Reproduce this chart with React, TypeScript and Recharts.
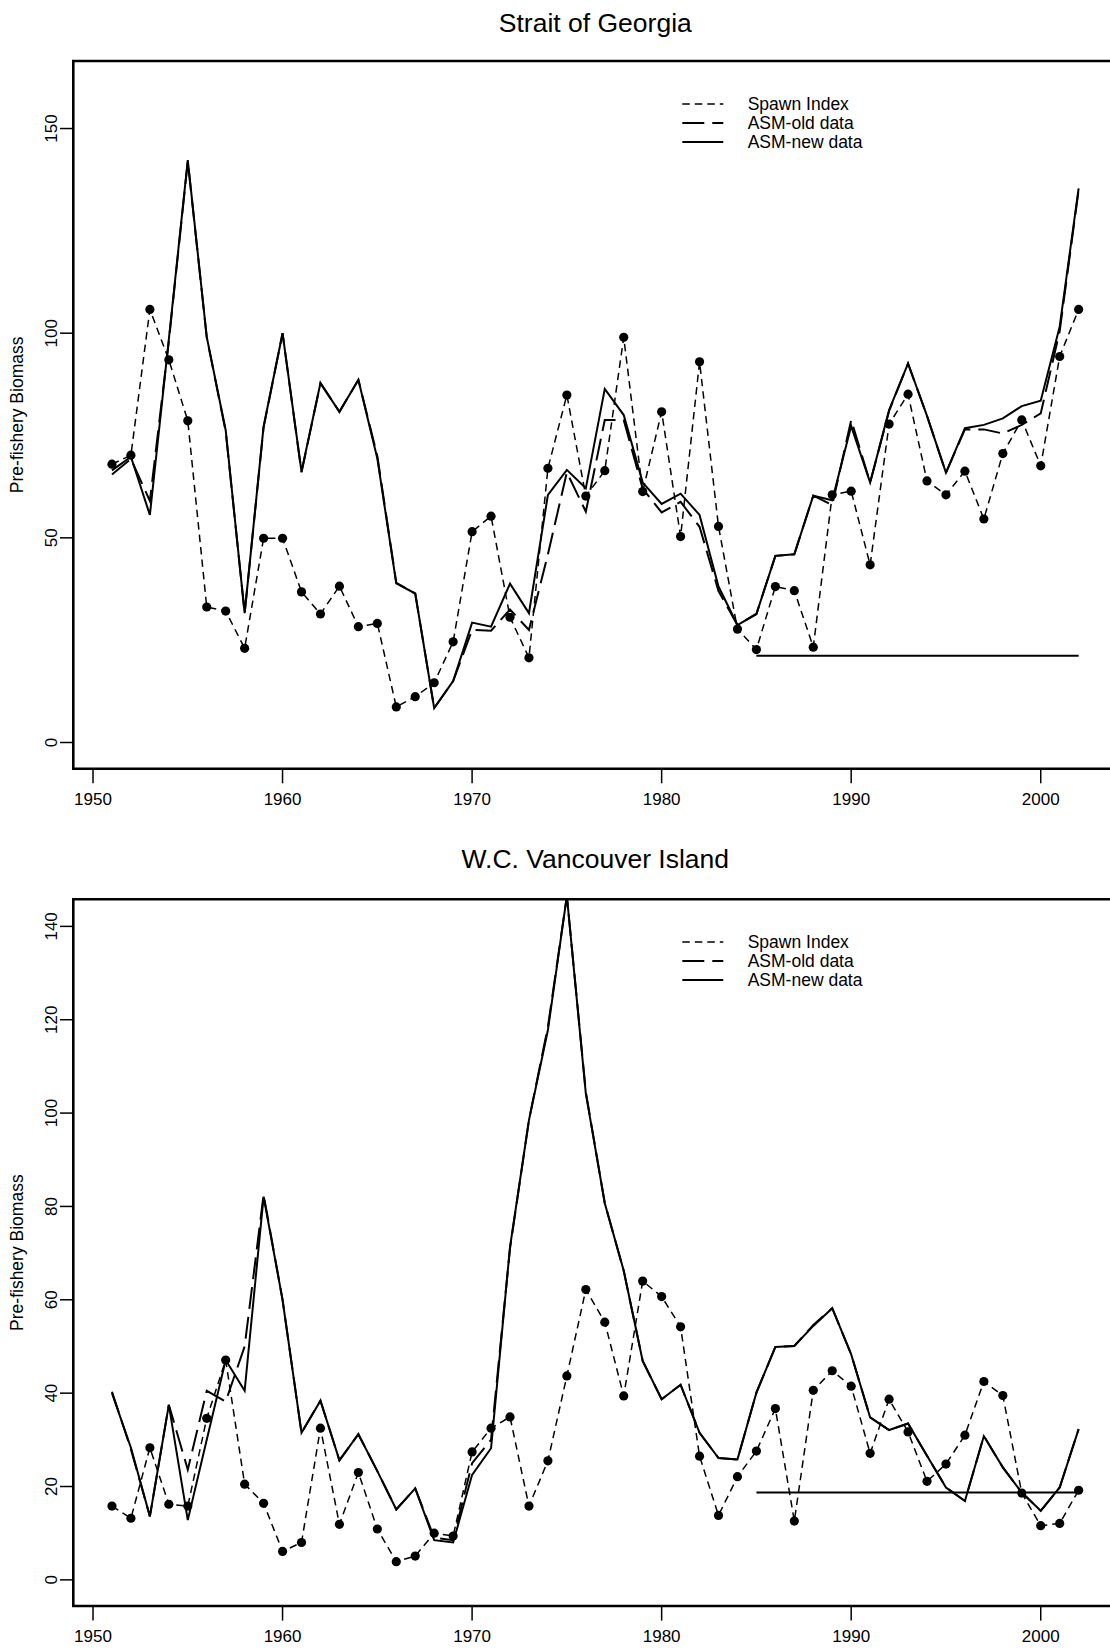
import React from 'react';
import { LineChart, Line, XAxis, YAxis, ReferenceArea, ReferenceLine, Legend } from 'recharts';

const FONT = "'Liberation Sans', Arial, Helvetica, sans-serif";

// ---------- data ----------
const years = [
  1951, 1952, 1953, 1954, 1955, 1956, 1957, 1958, 1959, 1960,
  1961, 1962, 1963, 1964, 1965, 1966, 1967, 1968, 1969, 1970,
  1971, 1972, 1973, 1974, 1975, 1976, 1977, 1978, 1979, 1980,
  1981, 1982, 1983, 1984, 1985, 1986, 1987, 1988, 1989, 1990,
  1991, 1992, 1993, 1994, 1995, 1996, 1997, 1998, 1999, 2000,
  2001, 2002,
];

const xTicks = [1950, 1960, 1970, 1980, 1990, 2000];

// Strait of Georgia
const sogSpawn = [
  68.0, 70.2, 105.8, 93.5, 78.6, 33.1, 32.1, 23.0, 49.9, 49.9,
  36.8, 31.4, 38.2, 28.3, 29.1, 8.7, 11.2, 14.6, 24.6, 51.5,
  55.3, 30.6, 20.7, 67.0, 84.9, 60.2, 66.4, 99.0, 61.3, 80.8,
  50.3, 93.0, 52.8, 27.7, 22.7, 38.1, 37.1, 23.3, 60.5, 61.4,
  43.4, 77.8, 85.1, 63.9, 60.5, 66.3, 54.6, 70.6, 78.8, 67.6,
  94.3, 105.8,
];
const sogAsmOld = [
  65.5, 69.3, 59.0, 98.0, 142.0, 99.0, 76.0, 31.6, 77.0, 100.0,
  66.0, 87.8, 80.8, 88.6, 70.0, 39.0, 36.4, 8.4, 15.0, 27.5,
  27.3, 32.5, 27.5, 46.0, 66.0, 56.4, 78.8, 78.8, 62.0, 56.2,
  58.8, 52.7, 37.0, 28.7, 31.4, 45.6, 46.0, 60.3, 58.0, 78.8,
  63.5, 81.0, 92.6, 79.8, 65.9, 76.5, 76.5, 75.5, 77.6, 80.4,
  100.5, 135.0,
];
const sogAsmNew = [
  66.5, 69.8, 55.6, 98.5, 142.3, 99.1, 76.3, 31.6, 77.2, 100.0,
  66.2, 87.8, 80.8, 88.6, 69.4, 38.9, 36.4, 8.4, 15.0, 29.3,
  28.3, 38.8, 31.6, 60.5, 66.6, 62.1, 86.4, 80.0, 63.5, 58.3,
  60.8, 55.6, 38.1, 28.7, 31.4, 45.6, 46.0, 60.3, 59.2, 77.3,
  63.5, 81.2, 92.6, 79.8, 65.9, 76.8, 77.6, 79.2, 82.2, 83.5,
  101.6, 135.4,
];
const sogCutoff = 21.2;
const sogYTicks = [0, 50, 100, 150];

// W.C. Vancouver Island
const wcviSpawn = [
  15.8, 13.2, 28.3, 16.2, 15.8, 34.6, 47.1, 20.5, 16.4, 6.1,
  8.0, 32.5, 11.9, 23.0, 10.9, 3.9, 5.1, 10.0, 9.4, 27.4,
  32.5, 34.9, 15.8, 25.5, 43.7, 62.2, 55.2, 39.4, 64.0, 60.7,
  54.2, 26.5, 13.8, 22.1, 27.6, 36.7, 12.6, 40.6, 44.8, 41.5,
  27.1, 38.7, 31.7, 21.1, 24.8, 31.0, 42.5, 39.5, 18.6, 11.6,
  12.1, 19.2,
];
const wcviAsmOld = [
  40.3, 28.0, 13.6, 37.5, 23.6, 40.5, 38.2, 50.0, 82.5, 60.0,
  31.5, 38.4, 25.6, 31.2, 23.3, 15.1, 19.6, 9.0, 8.5, 25.0,
  30.0, 71.0, 98.5, 118.5, 146.5, 104.5, 80.7, 66.2, 46.9, 38.7,
  41.8, 31.5, 26.1, 25.8, 40.1, 49.9, 50.1, 54.6, 58.2, 48.3,
  34.8, 32.1, 33.5, 26.6, 19.8, 16.9, 30.8, 24.1, 18.7, 14.8,
  19.8, 32.3,
];
const wcviAsmNew = [
  40.0, 28.3, 13.6, 37.5, 12.8, 30.0, 47.1, 40.5, 82.1, 60.0,
  31.5, 38.4, 25.6, 31.2, 23.3, 15.1, 19.6, 8.5, 8.0, 22.5,
  28.2, 71.3, 98.5, 117.8, 146.5, 104.2, 80.7, 66.2, 46.9, 38.7,
  41.8, 31.5, 26.1, 25.8, 40.1, 49.9, 50.1, 54.4, 58.2, 48.3,
  34.8, 32.1, 33.5, 26.6, 19.8, 16.9, 30.8, 24.1, 18.7, 14.8,
  19.8, 32.3,
];
const wcviCutoff = 18.7;
const wcviYTicks = [0, 20, 40, 60, 80, 100, 120, 140];

const cutoffYears = [1985, 2002];
const legendLabels = ['Spawn Index', 'ASM-old data', 'ASM-new data'];

// ---------- styles ----------
const SPAWN_DASH = '7.5 5';
const OLD_DASH = '22 8';
const legendStyles = [
  { dash: SPAWN_DASH, w: 1.5 },
  { dash: OLD_DASH, w: 2 },
  { dash: undefined as string | undefined, w: 2 },
];

const X_DOMAIN: [number, number] = [1948.96, 2004.04];

const buildRows = (spawn: number[], oldv: number[], newv: number[]) =>
  years.map((yr, i) => ({ year: yr, spawn: spawn[i], asmOld: oldv[i], asmNew: newv[i] }));

const YTick = (props: any) => {
  const { x, y, payload } = props;
  return (
    <text
      transform={`translate(${x},${y}) rotate(-90)`}
      textAnchor="middle"
      fontSize={17}
      fontFamily={FONT}
      fill="#000"
    >
      {payload.value}
    </text>
  );
};

const LegendBox = () => (
  <svg width={240} height={64} style={{ overflow: 'visible' }}>
    {legendLabels.map((label, i) => (
      <g key={label}>
        <line
          x1={7.3}
          x2={48.3}
          y1={13 + i * 19}
          y2={13 + i * 19}
          stroke="#000"
          strokeWidth={legendStyles[i].w}
          strokeDasharray={legendStyles[i].dash}
        />
        <text x={72.7} y={13 + i * 19} dy="0.36em" fontSize={17.5} fontFamily={FONT} fill="#000">
          {label}
        </text>
      </g>
    ))}
  </svg>
);

type PanelProps = {
  top: number;
  height: number;
  plotTop: number;
  xAxisHeight: number;
  title: string;
  titleBaseline: number;
  yDomain: [number, number];
  yTicks: number[];
  spawn: number[];
  oldv: number[];
  newv: number[];
  cutoff: number;
};

const CHART_W = 1125;
const Y_AXIS_W = 73.3;
const RIGHT_MARGIN = 7.7;

const Panel = (p: PanelProps) => {
  const rows = buildRows(p.spawn, p.oldv, p.newv);
  const plotH = p.height - p.plotTop - p.xAxisHeight;
  const plotCenterX = Y_AXIS_W + (CHART_W - RIGHT_MARGIN - Y_AXIS_W) / 2;
  return (
    <div style={{ position: 'absolute', left: 0, top: p.top, width: CHART_W, height: p.height }}>
      <LineChart
        width={CHART_W}
        height={p.height}
        data={rows}
        margin={{ top: p.plotTop, right: RIGHT_MARGIN, bottom: 0, left: 0 }}
      >
        <XAxis
          dataKey="year"
          type="number"
          domain={X_DOMAIN}
          allowDataOverflow
          ticks={xTicks}
          interval={0}
          height={p.xAxisHeight}
          axisLine={false}
          tickSize={14.6}
          tickMargin={9.6}
          tickLine={{ stroke: '#000', strokeWidth: 1.5 }}
          tick={{ fontSize: 17, fill: '#000', fontFamily: FONT }}
        />
        <YAxis
          type="number"
          domain={p.yDomain}
          allowDataOverflow
          ticks={p.yTicks}
          interval={0}
          width={Y_AXIS_W}
          axisLine={false}
          tickSize={13.3}
          tickMargin={3}
          tickLine={{ stroke: '#000', strokeWidth: 1.5 }}
          tick={<YTick />}
        />
        <ReferenceLine
          segment={[
            { x: cutoffYears[0], y: p.cutoff },
            { x: cutoffYears[1], y: p.cutoff },
          ]}
          stroke="#000"
          strokeWidth={2}
          ifOverflow="visible"
        />
        <Line
          type="linear"
          dataKey="spawn"
          stroke="#000"
          strokeWidth={1.5}
          strokeDasharray={SPAWN_DASH}
          dot={{ r: 4.6, fill: '#000', stroke: 'none' }}
          activeDot={false}
          isAnimationActive={false}
        />
        <Line
          type="linear"
          dataKey="asmOld"
          stroke="#000"
          strokeWidth={2}
          strokeDasharray={OLD_DASH}
          dot={false}
          activeDot={false}
          isAnimationActive={false}
        />
        <Line
          type="linear"
          dataKey="asmNew"
          stroke="#000"
          strokeWidth={2}
          dot={false}
          activeDot={false}
          isAnimationActive={false}
        />
        <ReferenceArea
          x1={X_DOMAIN[0]}
          x2={X_DOMAIN[1]}
          y1={p.yDomain[0]}
          y2={p.yDomain[1]}
          fill="none"
          fillOpacity={0}
          stroke="#000"
          strokeWidth={2.6}
          ifOverflow="visible"
        />
        <Legend
          content={<LegendBox />}
          layout="horizontal"
          verticalAlign="middle"
          align="center"
          wrapperStyle={{ left: 675, top: p.plotTop + 30, width: 240, height: 64 }}
        />
      </LineChart>
      <svg
        width={1110}
        height={p.height}
        style={{ position: 'absolute', left: 0, top: 0, pointerEvents: 'none' }}
      >
        <text
          x={plotCenterX}
          y={p.titleBaseline}
          textAnchor="middle"
          fontSize={26.5}
          fontFamily={FONT}
          fill="#000"
        >
          {p.title}
        </text>
        <text
          transform={`translate(22.5, ${p.plotTop + plotH / 2}) rotate(-90)`}
          textAnchor="middle"
          fontSize={17.5}
          fontFamily={FONT}
          fill="#000"
        >
          Pre-fishery Biomass
        </text>
      </svg>
    </div>
  );
};

export default function App() {
  return (
    <div
      style={{
        position: 'absolute',
        left: 0,
        top: 0,
        width: 1110,
        height: 1651,
        overflow: 'hidden',
        background: '#fff',
      }}
    >
      <Panel
        top={0}
        height={830}
        plotTop={61}
        xAxisHeight={61.3}
        title="Strait of Georgia"
        titleBaseline={31.7}
        yDomain={[-6.4, 166.5]}
        yTicks={sogYTicks}
        spawn={sogSpawn}
        oldv={sogAsmOld}
        newv={sogAsmNew}
        cutoff={sogCutoff}
      />
      <Panel
        top={830}
        height={821}
        plotTop={69.3}
        xAxisHeight={45}
        title="W.C. Vancouver Island"
        titleBaseline={38.3}
        yDomain={[-5.6, 145.8]}
        yTicks={wcviYTicks}
        spawn={wcviSpawn}
        oldv={wcviAsmOld}
        newv={wcviAsmNew}
        cutoff={wcviCutoff}
      />
    </div>
  );
}
